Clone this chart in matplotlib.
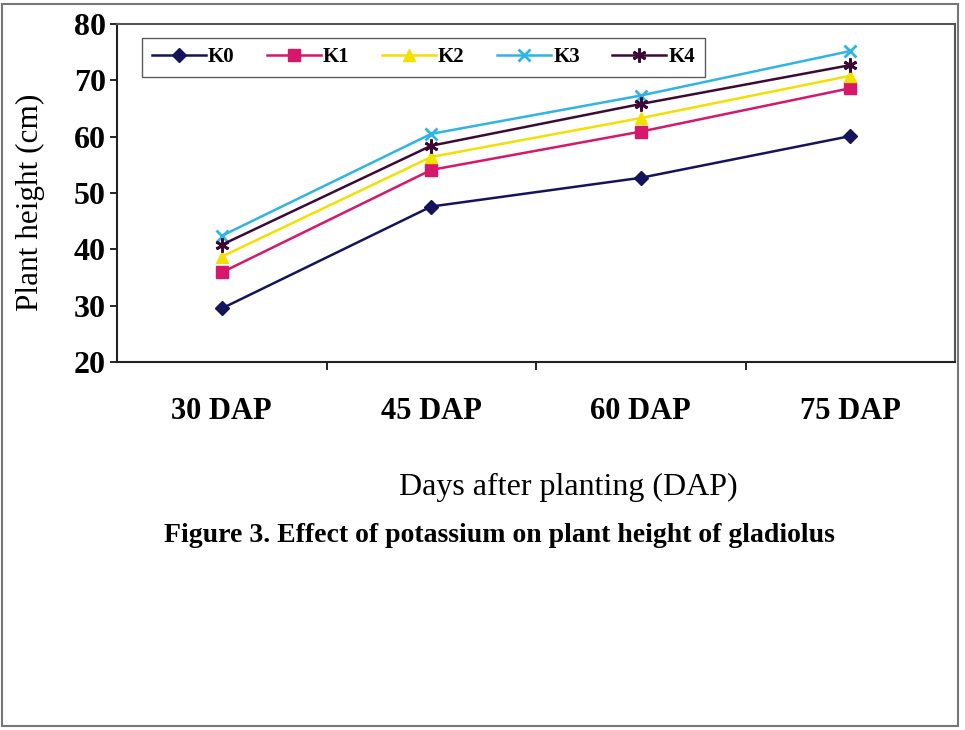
import matplotlib
matplotlib.use("Agg")
import matplotlib.pyplot as plt
from matplotlib.patches import Rectangle
import numpy as np

categories = ["30 DAP", "45 DAP", "60 DAP", "75 DAP"]
K0 = [29.5, 47.6, 52.7, 60.1]
K1 = [35.9, 54.1, 60.9, 68.6]
K2 = [38.7, 56.4, 63.3, 70.8]
K3 = [42.4, 60.5, 67.3, 75.2]
K4 = [40.8, 58.4, 65.8, 72.7]
series_names = ["K0", "K1", "K2", "K3", "K4"]
yticks = [20, 30, 40, 50, 60, 70, 80]

plt.rcParams['font.family'] = ['Liberation Serif', 'DejaVu Serif']

fig = plt.figure(figsize=(9.65, 7.30), dpi=100)
ax = fig.add_axes([117/965, 1-362/730, (955-117)/965, (362-24)/730])

x = np.arange(len(categories))
styles = [
    dict(color="#14145c", marker="D", ms=7, mfc="#14145c", mec="#14145c"),
    dict(color="#d6176a", marker="s", ms=8, mfc="#d6176a", mec="#d6176a"),
    dict(color="#f2e000", marker="^", ms=8, mfc="#f2e000", mec="#f2e000"),
    dict(color="#2fb4e6", marker="x", ms=9, mew=2),
    dict(color="#3c0a34", marker=(6, 2, 0), ms=10, mew=2),
]
for name, vals, st in zip(series_names, [K0, K1, K2, K3, K4], styles):
    ax.plot(x, vals, lw=1.8, label=name, **st)

ax.set_xlim(-0.5, len(categories) - 0.5)
ax.set_ylim(20, 80)
ax.set_yticks(yticks)
ax.set_yticklabels([str(v) for v in yticks], fontsize=23, fontweight="bold")
ax.set_xticks(x)
ax.set_xticklabels(categories, fontsize=22, fontweight="bold")
ax.set_xticks(np.arange(0.5, len(categories) - 0.5, 1), minor=True)
ax.tick_params(axis="x", which="major", length=0, pad=25)
ax.tick_params(axis="x", which="minor", length=6, width=1.2, direction="out")
ax.tick_params(axis="y", length=5, width=1.2, direction="out", pad=3)
for sp in ax.spines.values():
    sp.set_linewidth(1.5)
    sp.set_color("#222222")
ax.spines["right"].set_color("#555555")
ax.spines["top"].set_color("#555555")

fig.text(30/965, 1-(95+310)/2/730, "Plant height (cm)", rotation=90,
         ha="center", va="center", fontsize=22.5)

leg = ax.legend(loc="upper left", bbox_to_anchor=(0.030, 0.959), ncol=5,
                frameon=True, fancybox=False, edgecolor="#333333",
                prop={"weight": "bold", "size": 15}, handlelength=2.6,
                columnspacing=1.55, handletextpad=0.1, borderpad=0.45,
                borderaxespad=0)
leg.get_frame().set_linewidth(1.0)

fig.text((398+738)/2/965, 1-487/730, "Days after planting (DAP)",
         ha="center", va="center", fontsize=23)
fig.text((160+838)/2/965, 1-535/730,
         "Figure 3. Effect of potassium on plant height of gladiolus",
         ha="center", va="center", fontsize=20, fontweight="bold")

fig.patches.append(Rectangle((2/965, 1-726/730), 956/965, 722/730,
                             transform=fig.transFigure, fill=False,
                             edgecolor="#777777", lw=1.5))

fig.savefig("out.png", dpi=100)
